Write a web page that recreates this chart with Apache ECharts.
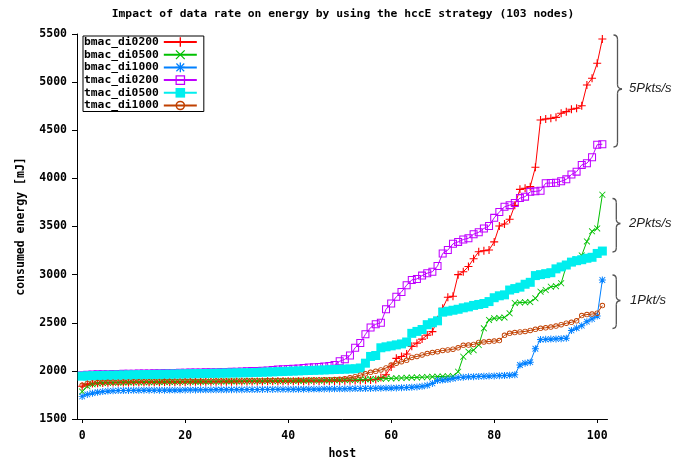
<!DOCTYPE html>
<html>
<head>
<meta charset="utf-8">
<script src="https://cdn.jsdelivr.net/npm/echarts@6/dist/echarts.min.js"></script>
<style>
  html, body { margin: 0; padding: 0; background: #fff; }
  #chart { width: 686px; height: 461px; }
</style>
</head>
<body>
<div id="chart"></div>
<script>
// Host index on the x axis (one point per node)
const hosts = [
  0, 1, 2, 3, 4, 5, 6, 7, 8, 9,
  10, 11, 12, 13, 14, 15, 16, 17, 18, 19,
  20, 21, 22, 23, 24, 25, 26, 27, 28, 29,
  30, 31, 32, 33, 34, 35, 36, 37, 38, 39,
  40, 41, 42, 43, 44, 45, 46, 47, 48, 49,
  50, 51, 52, 53, 54, 55, 56, 57, 58, 59,
  60, 61, 62, 63, 64, 65, 66, 67, 68, 69,
  70, 71, 72, 73, 74, 75, 76, 77, 78, 79,
  80, 81, 82, 83, 84, 85, 86, 87, 88, 89,
  90, 91, 92, 93, 94, 95, 96, 97, 98, 99,
  100, 101
];

const xTicks = [0, 20, 40, 60, 80, 100];
const yTicks = [1500, 2000, 2500, 3000, 3500, 4000, 4500, 5000, 5500];

// Consumed energy [mJ] per host, sorted ascending
const bmac_di0200 = [
  1840, 1860, 1868, 1872, 1875, 1877, 1878, 1879, 1880, 1880,
  1881, 1881, 1882, 1882, 1883, 1883, 1884, 1884, 1885, 1885,
  1885, 1886, 1886, 1886, 1887, 1887, 1887, 1888, 1888, 1888,
  1889, 1889, 1889, 1890, 1890, 1890, 1891, 1891, 1891, 1892,
  1892, 1892, 1893, 1893, 1893, 1894, 1894, 1895, 1895, 1896,
  1896, 1897, 1898, 1899, 1900, 1902, 1905, 1910, 1930, 1960,
  2040, 2130, 2150, 2175, 2255, 2288, 2330, 2372, 2408, 2530,
  2650, 2765, 2775, 3000, 3030, 3085, 3165, 3238, 3248, 3256,
  3340, 3505, 3526, 3575, 3720, 3886, 3897, 3914, 4115, 4607,
  4617, 4624, 4634, 4676, 4693, 4718, 4728, 4755, 4970, 5040,
  5196, 5448
];
const bmac_di0500 = [
  1785, 1840, 1860, 1870, 1875, 1877, 1878, 1879, 1880, 1881,
  1882, 1882, 1883, 1883, 1884, 1884, 1885, 1885, 1886, 1886,
  1887, 1887, 1888, 1888, 1889, 1889, 1890, 1890, 1891, 1891,
  1892, 1892, 1893, 1893, 1894, 1894, 1895, 1895, 1896, 1896,
  1897, 1897, 1898, 1898, 1899, 1900, 1900, 1901, 1902, 1903,
  1904, 1905, 1906, 1908, 1910, 1912, 1914, 1916, 1918, 1920,
  1922, 1924, 1926, 1928, 1930, 1932, 1934, 1936, 1938, 1940,
  1942, 1944, 1946, 1991, 2147, 2200, 2215, 2269, 2442, 2529,
  2546, 2550, 2555, 2598, 2705, 2710, 2712, 2715, 2754, 2823,
  2840, 2874, 2880, 2910, 3090, 3130, 3160, 3200, 3345, 3450,
  3480, 3830
];
const bmac_di1000 = [
  1735, 1755, 1768, 1778, 1785, 1790, 1793, 1795, 1796, 1797,
  1798, 1798, 1799, 1799, 1800, 1800, 1800, 1801, 1801, 1801,
  1802, 1802, 1802, 1803, 1803, 1803, 1804, 1804, 1804, 1805,
  1805, 1805, 1806, 1806, 1806, 1807, 1807, 1807, 1808, 1808,
  1808, 1809, 1809, 1810, 1810, 1811, 1811, 1812, 1812, 1813,
  1813, 1814, 1815, 1816, 1816, 1817, 1818, 1819, 1820, 1821,
  1822, 1823, 1825, 1827, 1830, 1833, 1840, 1850, 1870, 1900,
  1905, 1910, 1920, 1930, 1935, 1938, 1940, 1942, 1944, 1946,
  1948, 1950, 1952, 1955, 1960, 2061, 2080, 2090, 2230, 2325,
  2328, 2330, 2332, 2335, 2340, 2420, 2445, 2470, 2511, 2540,
  2570, 2944
];
const tmac_di0200 = [
  1955, 1960, 1962, 1964, 1965, 1966, 1967, 1968, 1969, 1970,
  1971, 1972, 1973, 1974, 1975, 1976, 1977, 1978, 1979, 1980,
  1981, 1982, 1983, 1984, 1985, 1986, 1987, 1988, 1989, 1990,
  1992, 1994, 1996, 1998, 2000, 2002, 2005, 2010, 2015, 2018,
  2020, 2022, 2025, 2030, 2035, 2038, 2040, 2045, 2050, 2061,
  2100, 2120, 2160, 2240, 2290, 2380, 2450, 2485, 2500, 2640,
  2700, 2770, 2820, 2890, 2945, 2955, 2990, 3015, 3030, 3090,
  3220, 3255, 3320, 3340, 3365, 3378, 3420, 3440, 3480, 3505,
  3590, 3650, 3705, 3722, 3745, 3795, 3810, 3860, 3865, 3872,
  3950, 3952, 3955, 3970, 3990, 4040, 4070, 4140, 4157, 4220,
  4350, 4355
];
const tmac_di0500 = [
  1945, 1948, 1950, 1952, 1953, 1954, 1955, 1956, 1957, 1958,
  1959, 1960, 1961, 1962, 1963, 1964, 1965, 1966, 1967, 1968,
  1969, 1970, 1971, 1972, 1973, 1974, 1975, 1976, 1977, 1978,
  1979, 1980, 1981, 1982, 1984, 1986, 1988, 1990, 1992, 1994,
  1996, 1998, 2000, 2002, 2004, 2006, 2008, 2010, 2012, 2014,
  2016, 2018, 2020, 2022, 2030, 2080, 2150, 2160, 2240, 2250,
  2260, 2270, 2280, 2300, 2390, 2410, 2430, 2480, 2500, 2520,
  2610, 2620, 2630, 2640, 2655, 2665, 2680, 2690, 2700, 2720,
  2760, 2780, 2790, 2840, 2855, 2870, 2900, 2920, 2990, 3000,
  3010, 3020, 3060, 3080, 3100, 3130, 3145, 3155, 3170, 3180,
  3220, 3245
];
const tmac_di1000 = [
  1850, 1870, 1875, 1878, 1880, 1881, 1882, 1883, 1884, 1885,
  1886, 1886, 1887, 1887, 1888, 1888, 1889, 1889, 1890, 1890,
  1891, 1891, 1892, 1892, 1893, 1893, 1894, 1894, 1895, 1895,
  1896, 1896, 1897, 1897, 1898, 1898, 1899, 1899, 1900, 1900,
  1901, 1901, 1902, 1903, 1904, 1905, 1906, 1907, 1908, 1910,
  1912, 1918, 1928, 1940, 1955, 1970, 1985, 1995, 2010, 2030,
  2060, 2080, 2095, 2110, 2140, 2150, 2165, 2180, 2190, 2200,
  2212, 2218, 2225, 2240, 2265, 2268, 2275, 2295, 2300, 2305,
  2310, 2315, 2370, 2390, 2398, 2405, 2410, 2420, 2432, 2442,
  2448, 2455, 2465, 2480, 2495, 2505, 2520, 2575, 2585, 2590,
  2600, 2678
];

// Point markers in the classic plotting style
const SYM_PLUS = 'path://M4.3,0H5.7V4.3H10V5.7H5.7V10H4.3V5.7H0V4.3H4.3Z';
const SYM_CROSS = 'path://M0,0.9L0.9,0L5,4.1L9.1,0L10,0.9L5.9,5L10,9.1L9.1,10L5,5.9L0.9,10L0,9.1L4.1,5Z';
const SYM_STAR = 'path://M4.3,0H5.7V4.3H10V5.7H5.7V10H4.3V5.7H0V4.3H4.3Z' +
  'M0.5,1.4L1.4,0.5L5,4.1L8.6,0.5L9.5,1.4L5.9,5L9.5,8.6L8.6,9.5L5,5.9L1.4,9.5L0.5,8.6L4.1,5Z';
const SYM_OPEN_SQUARE = 'path://M0,0H10V10H0Z M1.3,1.3V8.7H8.7V1.3Z';
const SYM_OPEN_CIRCLE = 'path://M5,0A5,5,0,1,1,5,10A5,5,0,1,1,5,0Z M5,1.6A3.4,3.4,0,1,0,5,8.4A3.4,3.4,0,1,0,5,1.6Z';

const seriesDefs = [
  { name: 'bmac_di0200', values: bmac_di0200, color: '#ff0000', symbol: SYM_PLUS, size: 8 },
  { name: 'bmac_di0500', values: bmac_di0500, color: '#00c000', symbol: SYM_CROSS, size: 6.5 },
  { name: 'bmac_di1000', values: bmac_di1000, color: '#0080ff', symbol: SYM_STAR, size: 7 },
  { name: 'tmac_di0200', values: tmac_di0200, color: '#c000ff', symbol: SYM_OPEN_SQUARE, size: 8 },
  { name: 'tmac_di0500', values: tmac_di0500, color: '#00eeee', symbol: 'rect', size: 9 },
  { name: 'tmac_di1000', values: tmac_di1000, color: '#c04000', symbol: SYM_OPEN_CIRCLE, size: 5.5 }
];

const MONO = '"DejaVu Sans Mono", "Liberation Mono", monospace';
const BRACE_STYLE = { fill: 'none', stroke: '#555', lineWidth: 1.3 };
const NOTE_FONT = { fontFamily: '"Liberation Sans", Arial, sans-serif', fontStyle: 'italic', fontSize: 13, fill: '#222', verticalAlign: 'middle' };

// A right-pointing curly brace built from line and curve pieces
function brace(x, top, mid, bottom, tip, hook) {
  const r = 4.2;
  return [
    { type: 'bezierCurve', silent: true, shape: { x1: hook, y1: top, cpx1: x, cpy1: top, x2: x, y2: top + r }, style: BRACE_STYLE },
    { type: 'line', silent: true, shape: { x1: x, y1: top + r, x2: x, y2: mid - r }, style: BRACE_STYLE },
    { type: 'bezierCurve', silent: true, shape: { x1: x, y1: mid - r, cpx1: x, cpy1: mid - 0.5, x2: tip, y2: mid }, style: BRACE_STYLE },
    { type: 'bezierCurve', silent: true, shape: { x1: tip, y1: mid, cpx1: x, cpy1: mid + 0.5, x2: x, y2: mid + r }, style: BRACE_STYLE },
    { type: 'line', silent: true, shape: { x1: x, y1: mid + r, x2: x, y2: bottom - r }, style: BRACE_STYLE },
    { type: 'bezierCurve', silent: true, shape: { x1: x, y1: bottom - r, cpx1: x, cpy1: bottom, x2: hook, y2: bottom }, style: BRACE_STYLE }
  ];
}

const chart = echarts.init(document.getElementById('chart'), null, { renderer: 'canvas' });

chart.setOption({
  animation: false,
  backgroundColor: '#ffffff',
  title: {
    text: 'Impact of data rate on energy by using the hccE strategy (103 nodes)',
    left: 'center',
    top: 4,
    textStyle: { fontFamily: MONO, fontWeight: 'bold', fontSize: 11.3, color: '#000' }
  },
  grid: {
    left: 77, right: 78.5, top: 34, bottom: 42,
    outerBoundsMode: 'none', containLabel: false
  },
  legend: {
    orient: 'vertical',
    left: 83, top: 36,
    align: 'right',
    padding: [0, 6, 0, 1],
    itemWidth: 33, itemHeight: 12, itemGap: 0.7,
    backgroundColor: '#ffffff',
    borderColor: '#000', borderWidth: 1, borderRadius: 0,
    textStyle: { fontFamily: MONO, fontWeight: 'bold', fontSize: 11.3, color: '#000', lineHeight: 12 },
    data: seriesDefs.map(s => s.name)
  },
  xAxis: {
    type: 'value',
    min: -1, max: 102,
    name: 'host',
    nameLocation: 'middle',
    nameGap: 29,
    nameTextStyle: { fontFamily: MONO, fontWeight: 'bold', fontSize: 11.5, color: '#000' },
    axisLine: { show: true, onZero: false, lineStyle: { color: '#000', width: 1 } },
    axisTick: { show: true, inside: false, length: 4, customValues: xTicks, lineStyle: { color: '#000', width: 1 } },
    axisLabel: { show: true, customValues: xTicks, margin: 11, color: '#000', fontFamily: MONO, fontWeight: 'bold', fontSize: 11.5,
      formatter: v => String(v) },
    splitLine: { show: false }
  },
  yAxis: {
    type: 'value',
    min: 1500, max: 5500, interval: 500,
    name: 'consumed energy [mJ]',
    nameLocation: 'middle',
    nameRotate: 90,
    nameGap: 50,
    nameTextStyle: { fontFamily: MONO, fontWeight: 'bold', fontSize: 11.5, color: '#000' },
    axisLine: { show: true, onZero: false, lineStyle: { color: '#000', width: 1 } },
    axisTick: { show: true, inside: false, length: 5, customValues: yTicks, lineStyle: { color: '#000', width: 1 } },
    axisLabel: { show: true, customValues: yTicks, margin: 10, color: '#000', fontFamily: MONO, fontWeight: 'bold', fontSize: 11.5,
      formatter: v => String(v) },
    splitLine: { show: false }
  },
  series: seriesDefs.map(s => ({
    type: 'line',
    name: s.name,
    data: hosts.map((h, i) => [h, s.values[i]]),
    symbol: s.symbol,
    symbolSize: s.size,
    showSymbol: true,
    showAllSymbol: true,
    clip: false,
    lineStyle: { color: s.color, width: 1 },
    itemStyle: { color: s.color, borderWidth: 0 },
    emphasis: { disabled: true }
  })),
  // Braces grouping the runs by packet rate
  graphic: [].concat(
    brace(617.5, 35, 89, 147, 622, 613.5),
    [{ type: 'text', silent: true, x: 629, y: 88, style: Object.assign({ text: '5Pkts/s' }, NOTE_FONT) }],
    brace(616.3, 198.5, 223.5, 252, 620.3, 612.5),
    [{ type: 'text', silent: true, x: 629, y: 223, style: Object.assign({ text: '2Pkts/s' }, NOTE_FONT) }],
    brace(616.3, 275, 300.5, 328.5, 620.3, 612.5),
    [{ type: 'text', silent: true, x: 630, y: 300, style: Object.assign({ text: '1Pkt/s' }, NOTE_FONT) }]
  )
});
</script>
</body>
</html>
